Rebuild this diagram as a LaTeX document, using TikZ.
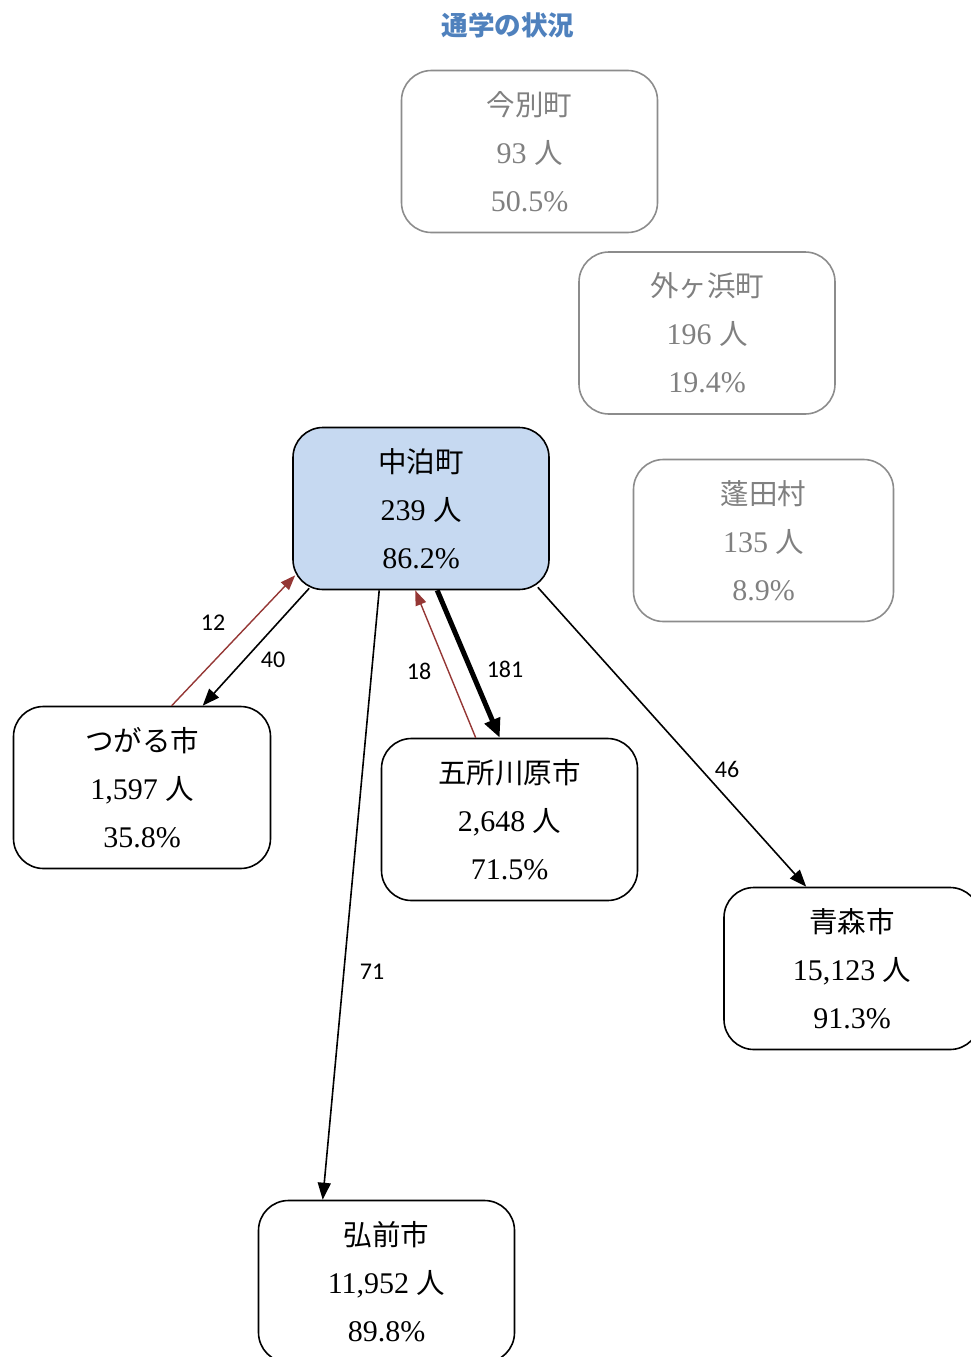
\documentclass[tikz,border=0pt]{standalone}
\usepackage{fontspec}
\setmainfont{Liberation Serif}
\newfontfamily\cjk[Scale=0.95]{Noto Sans CJK JP}
\newfontfamily\lblfont{Carlito}
\usetikzlibrary{arrows.meta,calc}
\definecolor{boxblue}{HTML}{C6D9F1}
\definecolor{titleblue}{HTML}{4F81BD}
\definecolor{grayline}{HTML}{8C8C8C}
\definecolor{graytext}{HTML}{808080}
\definecolor{darkred}{HTML}{953735}
\begin{document}
\begin{tikzpicture}[x=1pt,y=-1pt,
  box/.style={draw=black,line width=1.6pt,rounded corners=30pt,minimum width=256pt,minimum height=162pt,
    align=center,font=\fontsize{30}{48}\selectfont,inner sep=0pt},
  graybox/.style={box,draw=grayline,text=graytext},
  flow/.style={line width=1.6pt,-{Triangle[length=17pt,width=13pt]}},
  backflow/.style={draw=darkred,line width=1.4pt,-{Triangle[length=15pt,width=11pt]},darkred},
  lbl/.style={font=\lblfont\fontsize{24}{26}\selectfont,inner sep=0pt}]
\useasboundingbox (0,0) rectangle (971,1357);
\node[font=\cjk\bfseries\fontsize{28}{30}\selectfont,text=titleblue] (title) at (508,25) {通学の状況};
\node[graybox] (ima) at (529.5,151.5) {{\cjk 今別町}\\93 {\cjk 人}\\50.5\%};
\node[graybox] (soto) at (707,333) {{\cjk 外ヶ浜町}\\196 {\cjk 人}\\19.4\%};
\node[graybox,minimum width=260pt] (yomo) at (763.5,540.5) {{\cjk 蓬田村}\\135 {\cjk 人}\\8.9\%};
\node[box,fill=boxblue] (nak) at (421,508.5) {{\cjk 中泊町}\\239 {\cjk 人}\\86.2\%};
\node[box,minimum width=257pt] (tsu) at (142,787.5) {{\cjk つがる市}\\1,597 {\cjk 人}\\35.8\%};
\node[box] (gosho) at (509.5,819.5) {{\cjk 五所川原市}\\2,648 {\cjk 人}\\71.5\%};
\node[box] (aomori) at (852,968.5) {{\cjk 青森市}\\15,123 {\cjk 人}\\91.3\%};
\node[box] (hiro) at (386.5,1281.5) {{\cjk 弘前市}\\11,952 {\cjk 人}\\89.8\%};
% connectors
\draw[flow] ($(nak.south west)+(17,-2)$) -- ($(tsu.north west)+(190,0)$);
\draw[backflow] ($(tsu.north west)+(159,0)$) -- ($(nak.south west)+(3,-15)$);
\draw[flow] ($(nak.south west)+(87,0)$) -- ($(hiro.north west)+(65,0)$);
\draw[line width=5pt,-{Triangle[length=19pt,width=16pt]}] ($(nak.south west)+(145,0)$) -- ($(gosho.north west)+(119,0)$);
\draw[backflow] ($(gosho.north west)+(95,0)$) -- ($(nak.south west)+(123,0)$);
\draw[flow] ($(nak.south east)+(-12,-3)$) -- ($(aomori.north west)+(83,0)$);
% labels
\node[lbl] (l12) at (213,623) {12};
\node[lbl] (l40) at (273,660) {40};
\node[lbl] (l18) at (419,671) {18};
\node[lbl] (l181) at (505,669) {181};
\node[lbl] (l71) at (372,972) {71};
\node[lbl] (l46) at (727,769) {46};
\end{tikzpicture}
\end{document}
